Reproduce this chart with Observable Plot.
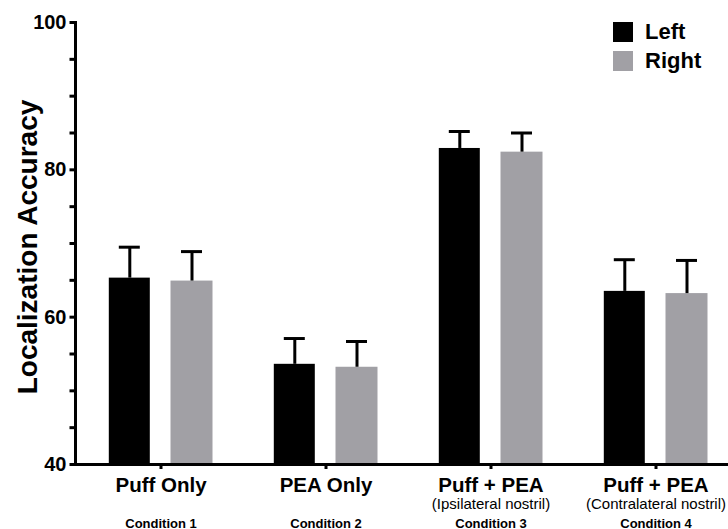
<!DOCTYPE html>
<html>
<head>
<meta charset="utf-8">
<script src="https://cdn.jsdelivr.net/npm/d3@7"></script>
<script src="https://cdn.jsdelivr.net/npm/@observablehq/plot@0.6"></script>
<style>
  html, body { margin: 0; padding: 0; background: #fff; }
  #wrap { position: relative; width: 728px; height: 529px; font-family: "Liberation Sans", Arial, Helvetica, sans-serif; }
  #legend { position: absolute; left: 613px; top: 22px; }
  .lg-row { display: flex; align-items: center; height: 20px; margin-bottom: 9px; }
  .lg-sw { width: 20px; height: 20px; margin-right: 12px; }
  .lg-tx { font-size: 22px; font-weight: bold; line-height: 20px; color: #000; }
  #chart svg [aria-label="frame"] { stroke-width: 3px; stroke: #000; }
</style>
</head>
<body>
<div id="wrap"><div id="chart"></div><div id="legend"></div></div>
<script>
// ---- data ----
const conditionIds = ["Condition 1", "Condition 2", "Condition 3", "Condition 4"];
const conditionNames = ["Puff Only", "PEA Only", "Puff + PEA", "Puff + PEA"];
const conditionNotes = ["", "", "(Ipsilateral nostril)", "(Contralateral nostril)"];
const sides = ["Left", "Right"];
const sideColors = ["#000000", "#a1a0a5"];
const leftMeans = [65.3, 53.6, 82.9, 63.5];
const leftErrors = [4.2, 3.5, 2.3, 4.3];
const rightMeans = [64.9, 53.2, 82.4, 63.2];
const rightErrors = [4.0, 3.5, 2.6, 4.5];
const yTicks = [40, 45, 50, 55, 60, 65, 70, 75, 80, 85, 90, 95, 100];
const yLabelTicks = [40, 60, 80, 100];
const yTitle = "Localization Accuracy";

// ---- table ----
const rows = [];
conditionIds.forEach((id, i) => {
  rows.push({id, side: sides[0], mean: leftMeans[i], hi: leftMeans[i] + leftErrors[i]});
  rows.push({id, side: sides[1], mean: rightMeans[i], hi: rightMeans[i] + rightErrors[i]});
});
const leftRows = rows.filter(d => d.side === sides[0]);
const rightRows = rows.filter(d => d.side === sides[1]);
const nameOf = id => conditionNames[conditionIds.indexOf(id)];
const notes = conditionIds.map((id, i) => ({id, note: conditionNotes[i]})).filter(d => d.note);
const font = "'Liberation Sans', Arial, Helvetica, sans-serif";

const chart = Plot.plot({
  width: 728,
  height: 529,
  marginLeft: 75,
  marginRight: 0,
  marginTop: 22,
  marginBottom: 65,
  style: {fontFamily: font, color: "#000", background: "#fff", overflow: "visible"},
  x: {domain: conditionIds, range: [77.5, 737.5], padding: 0},
  y: {domain: [40, 100]},
  color: {domain: sides, range: sideColors},
  marks: [
    Plot.barY(leftRows, {x: "id", y1: 40, y2: "mean", fill: "side", insetLeft: 30.8, insetRight: 93.2}),
    Plot.barY(rightRows, {x: "id", y1: 40, y2: "mean", fill: "side", insetLeft: 92.5, insetRight: 30.5}),
    Plot.ruleX(leftRows, {x: "id", y1: "mean", y2: "hi", dx: -31.2, stroke: "#000", strokeWidth: 3}),
    Plot.ruleX(rightRows, {x: "id", y1: "mean", y2: "hi", dx: 31, stroke: "#000", strokeWidth: 3}),
    Plot.tickY(leftRows, {x: "id", y: "hi", insetLeft: 40.8, insetRight: 103.2, stroke: "#000", strokeWidth: 3}),
    Plot.tickY(rightRows, {x: "id", y: "hi", insetLeft: 103, insetRight: 41, stroke: "#000", strokeWidth: 3}),
    Plot.axisY({ticks: yTicks, tickSize: 5.5, tickPadding: 3.5, strokeWidth: 3, fontSize: 20, fontWeight: "bold",
      tickFormat: d => yLabelTicks.includes(d) ? String(d) : "", label: null}),
    Plot.frame({anchor: "left", strokeWidth: 3}),
    Plot.ruleY([40], {strokeWidth: 3}),
    Plot.axisX({tickSize: 5, tickPadding: 8.4, strokeWidth: 3, fontSize: 20.5, fontWeight: "bold",
      tickFormat: nameOf, label: null}),
    Plot.text(notes, {x: "id", text: "note", frameAnchor: "bottom", lineAnchor: "top", dy: 34, fontSize: 15}),
    Plot.text(conditionIds, {x: d => d, text: d => d, frameAnchor: "bottom", lineAnchor: "top", dy: 53.8, fontSize: 13, fontWeight: "bold"}),
    Plot.text([yTitle], {text: d => d, frameAnchor: "left", textAnchor: "middle", rotate: -90, dx: -47, dy: 3.5, fontSize: 28, fontWeight: "bold"})
  ]
});
// thicken axis strokes (ticks and axis line) like the reference
d3.select(chart).selectAll('[aria-label="y-axis tick"], [aria-label="x-axis tick"], [aria-label="frame"]')
  .attr("stroke-width", 3)
  .selectAll("path, line").attr("stroke-width", 3);
document.getElementById("chart").appendChild(chart);

// legend
const legend = document.getElementById("legend");
sides.forEach((s, i) => {
  const row = document.createElement("div");
  row.className = "lg-row";
  const sw = document.createElement("div");
  sw.className = "lg-sw";
  sw.style.background = sideColors[i];
  const tx = document.createElement("div");
  tx.className = "lg-tx";
  tx.textContent = s;
  row.appendChild(sw); row.appendChild(tx);
  legend.appendChild(row);
});
</script>
</body>
</html>
